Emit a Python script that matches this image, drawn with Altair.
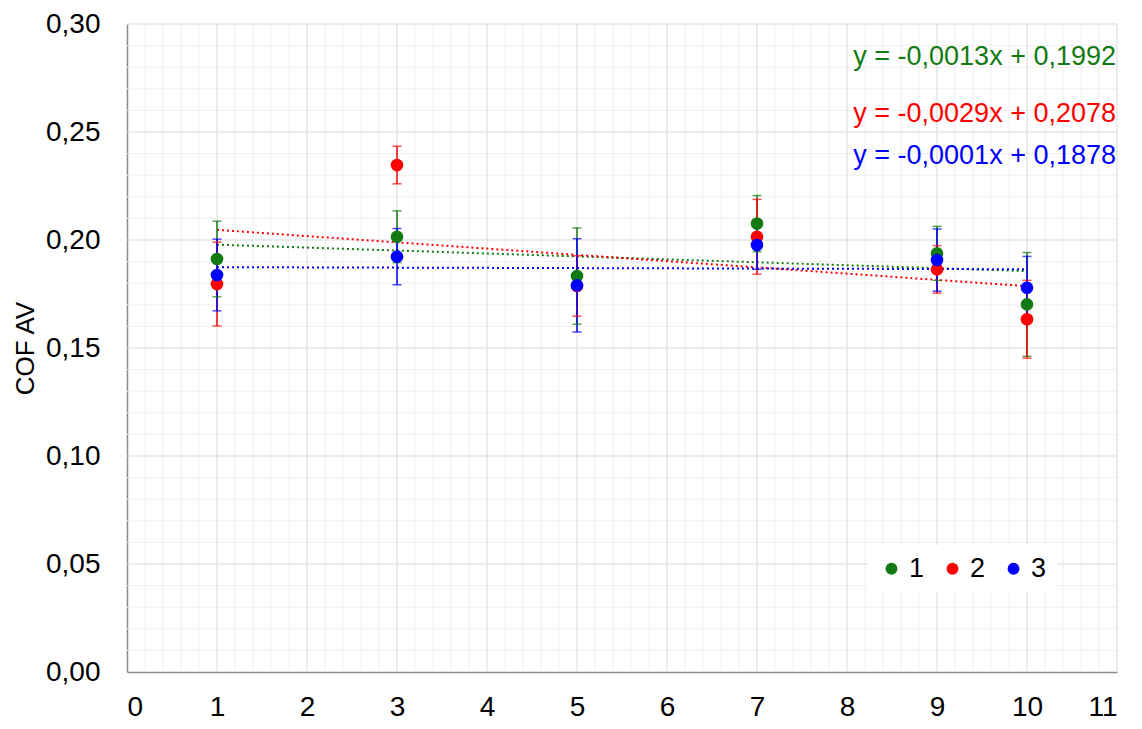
import altair as alt
import pandas as pd

# ---- data ----
x_vals = [1, 3, 5, 7, 9, 10]
series_names = ["1", "2", "3"]
s1 = [0.1912, 0.2015, 0.1833, 0.2076, 0.1938, 0.1702]
e1 = [0.0175, 0.0120, 0.0223, 0.0130, 0.0125, 0.0240]
s2 = [0.1796, 0.2347, 0.1787, 0.2015, 0.1864, 0.1633]
e2 = [0.0194, 0.0087, 0.0140, 0.0173, 0.0110, 0.0180]
s3 = [0.1838, 0.1923, 0.1790, 0.1977, 0.1907, 0.1779]
e3 = [0.0166, 0.0130, 0.0216, 0.0113, 0.0144, 0.0145]
colors = ["#137a13", "#ff0000", "#0000ff"]
equations = ["y = -0,0013x + 0,1992", "y = -0,0029x + 0,2078", "y = -0,0001x + 0,1878"]
eq_y = [0.2847, 0.2583, 0.2389]

rows = []
for name, ys, es in zip(series_names, [s1, s2, s3], [e1, e2, e3]):
    for xv, yv, ev in zip(x_vals, ys, es):
        rows.append({"series": name, "x": xv, "y": yv, "lo": yv - ev, "hi": yv + ev})
df = pd.DataFrame(rows)

eq_df = pd.DataFrame({"series": series_names, "text": equations, "ty": eq_y, "tx": [11.0] * 3})

x_minor = [round(i * 0.2, 2) for i in range(56) if i % 5 != 0]
y_minor = [round(i * 0.01, 2) for i in range(31) if i % 5 != 0]
x_major = list(range(0, 12))
y_major = [round(i * 0.05, 2) for i in range(7)]

FONT = "Liberation Sans"
xs = alt.Scale(domain=[0, 11], nice=False, zero=False)
ys_ = alt.Scale(domain=[0, 0.30], nice=False, zero=False)
color_scale = alt.Scale(domain=series_names, range=colors)

xaxis = alt.Axis(values=x_major, grid=False, ticks=False, labelFontSize=28, labelFont=FONT,
                 labelColor="#000000", labelPadding=21, domainColor="#8c8c8c", domainWidth=1.5,
                 title=None)
yaxis = alt.Axis(values=y_major, grid=False, ticks=False, labelFontSize=28, labelFont=FONT,
                 labelColor="#000000", labelPadding=27, domainColor="#8c8c8c", domainWidth=1.5,
                 labelExpr="replace(format(datum.value, '.2f'), '.', ',')",
                 title="COF AV", titleFont=FONT, titleFontSize=26, titleFontWeight="normal",
                 titleColor="#000000", titlePadding=7)

nocolor = alt.Color("series:N", scale=color_scale, legend=None)

minor_v = alt.Chart(pd.DataFrame({"v": x_minor})).mark_rule(color="#efefef", strokeWidth=1).encode(
    x=alt.X("v:Q", scale=xs, axis=xaxis))
minor_h = alt.Chart(pd.DataFrame({"v": y_minor})).mark_rule(color="#efefef", strokeWidth=1).encode(
    y=alt.Y("v:Q", scale=ys_, axis=yaxis))
major_v = alt.Chart(pd.DataFrame({"v": x_major[1:]})).mark_rule(color="#d9d9d9", strokeWidth=1).encode(
    x=alt.X("v:Q", scale=xs, axis=xaxis))
major_h = alt.Chart(pd.DataFrame({"v": y_major[1:]})).mark_rule(color="#d9d9d9", strokeWidth=1).encode(
    y=alt.Y("v:Q", scale=ys_, axis=yaxis))

base = alt.Chart(df)

trend = base.transform_regression("x", "y", groupby=["series"], extent=[1, 10]).mark_line(
    strokeDash=[2, 3], strokeWidth=2).encode(
    x=alt.X("x:Q", scale=xs, axis=xaxis),
    y=alt.Y("y:Q", scale=ys_, axis=yaxis),
    color=nocolor,
    detail="series:N")

err = base.mark_rule(strokeWidth=1.5).encode(
    x=alt.X("x:Q", scale=xs, axis=xaxis),
    y=alt.Y("lo:Q", scale=ys_, axis=yaxis),
    y2="hi:Q",
    color=nocolor)
cap_lo = base.mark_tick(orient="horizontal", size=9, thickness=1.5).encode(
    x=alt.X("x:Q", scale=xs, axis=xaxis),
    y=alt.Y("lo:Q", scale=ys_, axis=yaxis),
    color=nocolor)
cap_hi = base.mark_tick(orient="horizontal", size=9, thickness=1.5).encode(
    x=alt.X("x:Q", scale=xs, axis=xaxis),
    y=alt.Y("hi:Q", scale=ys_, axis=yaxis),
    color=nocolor)

points = base.mark_circle(size=160, opacity=1).encode(
    x=alt.X("x:Q", scale=xs, axis=xaxis),
    y=alt.Y("y:Q", scale=ys_, axis=yaxis),
    color=alt.Color("series:N", scale=color_scale,
                    legend=alt.Legend(title=None, orient="none", legendX=741, legendY=521,
                                      direction="horizontal", fillColor="#ffffff", padding=10,
                                      symbolType="circle", symbolSize=140, symbolStrokeWidth=0,
                                      labelFontSize=27, labelFont=FONT, labelColor="#000000",
                                      columnPadding=14, symbolOffset=0)),
    order=alt.Order("series:N"))

eqs = alt.Chart(eq_df).mark_text(align="right", baseline="middle", fontSize=27, font=FONT, dx=-1).encode(
    x=alt.X("tx:Q", scale=xs, axis=xaxis),
    y=alt.Y("ty:Q", scale=ys_, axis=yaxis),
    text="text:N",
    color=nocolor)

chart = alt.layer(minor_v, minor_h, major_v, major_h, trend, err, cap_lo, cap_hi, points, eqs).resolve_legend(
    color="independent"
).properties(
    width=990, height=648,
    autosize=alt.AutoSizeParams(type="none"),
    padding={"left": 119, "top": 16, "right": 17, "bottom": 49},
    background="#ffffff",
).configure_view(stroke=None)

chart.save("out.html", embed_options={"renderer": "svg", "actions": False})
